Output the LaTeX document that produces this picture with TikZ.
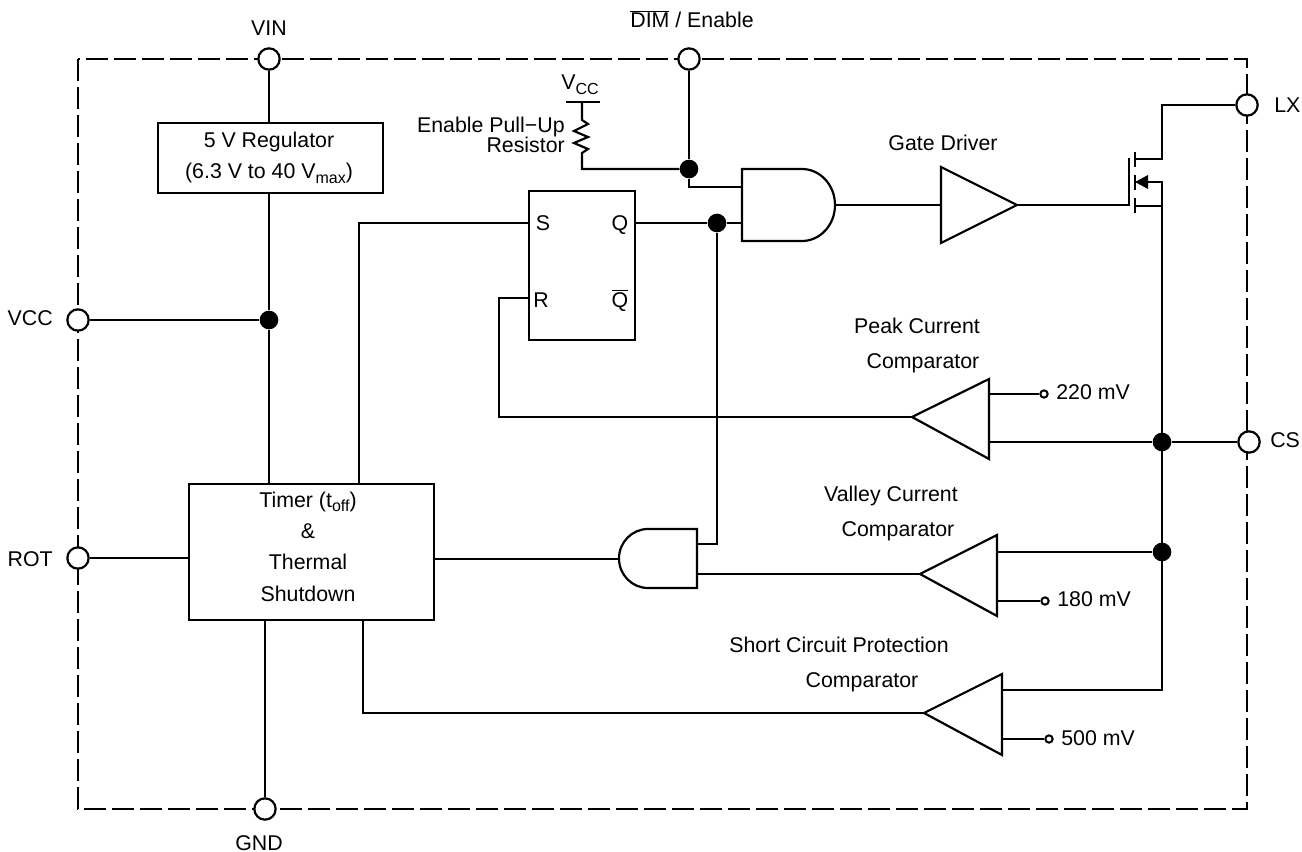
\documentclass[tikz,border=0pt]{standalone}
\usepackage{fontspec}
\setmainfont{Liberation Sans}
\newcommand{\sbt}[1]{\raisebox{-0.4ex}{\fontsize{12}{12}\selectfont #1}}
\tikzset{
  wire/.style={line width=1.65pt,line join=miter},
  pin/.style={circle,draw,fill=white,line width=1.65pt,minimum size=16pt,inner sep=0pt},
  dot/.style={circle,fill=black,minimum size=14pt,inner sep=0pt},
  refpin/.style={circle,draw,fill=white,line width=1.5pt,minimum size=5.5pt,inner sep=0pt},
  lab/.style={inner sep=0pt,anchor=base,font=\fontsize{16}{18}\selectfont},
  labl/.style={lab,anchor=base west},
  labr/.style={lab,anchor=base east},
  block/.style={draw,line width=1.65pt,inner sep=0pt,anchor=north west},
}
\begin{document}
\begin{tikzpicture}[x=0.75pt,y=-0.75pt]
\useasboundingbox (0,0) rectangle (1302,852);
% frame
\draw[line width=1.65pt,dash pattern=on 16.5pt off 4.5pt] (78,59) rectangle (1247,809);
% blocks
\node[block,minimum width=168.75pt,minimum height=52.5pt] (reg) at (157,122) {};
\node[block,minimum width=183.75pt,minimum height=102pt] (timer) at (188,483) {};
\node[block,minimum width=79.5pt,minimum height=111.75pt] (sr) at (528,190) {};
% pins
\node[pin] (VIN) at (269,59) {};
\node[pin] (DIM) at (689,59) {};
\node[pin] (LX) at (1247,105) {};
\node[pin] (CS) at (1249,442) {};
\node[pin] (VCC) at (78,320) {};
\node[pin] (ROT) at (78,558) {};
\node[pin] (GND) at (265,809) {};
% junctions
\node[dot] (j1) at (269,320) {};
\node[dot] (j2) at (689,169) {};
\node[dot] (j3) at (717,223) {};
\node[dot] (j4) at (1162,442) {};
\node[dot] (j5) at (1162,552) {};
% small reference terminals
\node[refpin] (r220) at (1044,394) {};
\node[refpin] (r180) at (1045,601) {};
\node[refpin] (r500) at (1049,739) {};
% gates and comparators
\draw[wire] (742,169) -- (802,169) arc (-90:90:33 and 36) -- (742,241) -- cycle;
\draw[wire] (697,529) -- (648,529) arc (-90:-270:29 and 29.5) -- (697,588) -- cycle;
\draw[wire] (941,167) -- (1017,205) -- (941,243) -- cycle;
\draw[wire] (989,379) -- (912,417) -- (989,459) -- cycle;
\draw[wire] (997,535) -- (920,574) -- (997,616) -- cycle;
\draw[wire] (1002,674) -- (924,713) -- (1002,755) -- cycle;
\coordinate (and1in1) at (742,187); \coordinate (and1in2) at (742,223);
\coordinate (and1out) at (835,205); \coordinate (and2out) at (619,559);
\coordinate (and2in1) at (697,544); \coordinate (and2in2) at (697,574);
\coordinate (gdin) at (941,205); \coordinate (gdout) at (1017,205);
\coordinate (pkout) at (912,417); \coordinate (vlout) at (920,574); \coordinate (scout) at (924,713);
% connectors
\draw[wire] (VIN) -- (reg.north -| VIN);
\draw[wire] (reg.south -| VIN) -- (j1) -- (timer.north -| VIN);
\draw[wire] (VCC) -- (j1);
\draw[wire] (ROT) -- (ROT -| timer.west);
\draw[wire] (GND) -- (GND |- timer.south);
\draw[wire] (359,483) |- (528,223);
\draw[wire] (528,298) -| (499,417) -- (pkout);
\draw[wire] (634,223) -- (j3) -- (and1in2);
\draw[wire] (j3) |- (and2in1);
\draw[wire] (DIM) -- (j2) |- (and1in1);
\draw[wire] (582,102) -- (582,120) -- (588,124) -- (574,131) -- (588,137) -- (574,143) -- (588,149) -- (582,153) -- (582,169) -- (j2);
\draw[wire] (566,102) -- (600,102);
\draw[wire] (and1out) -- (gdin);
\draw[wire] (gdout) -- (1129,205) -- (1129,158);
\draw[wire] (1135,152) -- (1135,167) (1135,175) -- (1135,190) (1135,198) -- (1135,213);
\draw[wire] (1135,159) -- (1162,159) -- (1162,105) -- (LX);
\draw[wire] (1135,206) -- (1162,206);
\draw[wire] (1148,182) -- (1162,182) -- (1162,690) -- (1002,690);
\fill (1135,182) -- (1148,175) -- (1148,189) -- cycle;
\draw[wire] (989,442) -- (j4) -- (CS);
\draw[wire] (997,552) -- (j5);
\draw[wire] (989,394) -- (r220);
\draw[wire] (997,601) -- (r180);
\draw[wire] (1002,739) -- (r500);
\draw[wire] (vlout) -- (and2in2);
\draw[wire] (timer.east |- and2out) -- (and2out);
\draw[wire] (363,619) |- (scout);
% labels
\node[lab] (tVIN) at (269,36) {VIN};
\node[lab] (tGND) at (259,850) {GND};
\node[labr] (tVCC) at (53,325) {VCC};
\node[labr] (tROT) at (53,566) {ROT};
\node[labl] (tLX) at (1274,113) {LX};
\node[labl] (tCS) at (1270,447) {CS};
\node[lab] (tDIM) at (692,28) {$\overline{\hbox{DIM}}$ / Enable};
\node[lab] (tV) at (580,90) {V\sbt{CC}};
\node[labr] (tRes1) at (565,133) {Enable Pull−Up};
\node[labr] (tRes2) at (565,153) {Resistor};
\node[lab] (t5v) at (269,148) {5 V Regulator};
\node[lab] (t63) at (269,179) {(6.3 V to 40 V\sbt{max})};
\node[lab] (tT1) at (308,507) {Timer (t\sbt{off})};
\node[lab] (tT2) at (308,538) {\&};
\node[lab] (tT3) at (308,569) {Thermal};
\node[lab] (tT4) at (308,601) {Shutdown};
\node[labl] (tS) at (535.5,231) {S};
\node[lab] (tQ) at (620,231) {Q};
\node[labl] (tR) at (533,307) {R};
\node[lab] (tQb) at (620,307) {$\overline{\hbox{Q}}$};
\node[lab] (tGD) at (943,151) {Gate Driver};
\node[lab] (tP1) at (917,333) {Peak Current};
\node[lab] (tP2) at (923,368) {Comparator};
\node[lab] (tV1) at (891,501) {Valley Current};
\node[lab] (tV2) at (898,536) {Comparator};
\node[lab] (tS1) at (839,652) {Short Circuit Protection};
\node[lab] (tS2) at (862,687) {Comparator};
\node[labl] (t220) at (1056,399) {220 mV};
\node[labl] (t180) at (1057,606) {180 mV};
\node[labl] (t500) at (1061,745) {500 mV};
\end{tikzpicture}
\end{document}
